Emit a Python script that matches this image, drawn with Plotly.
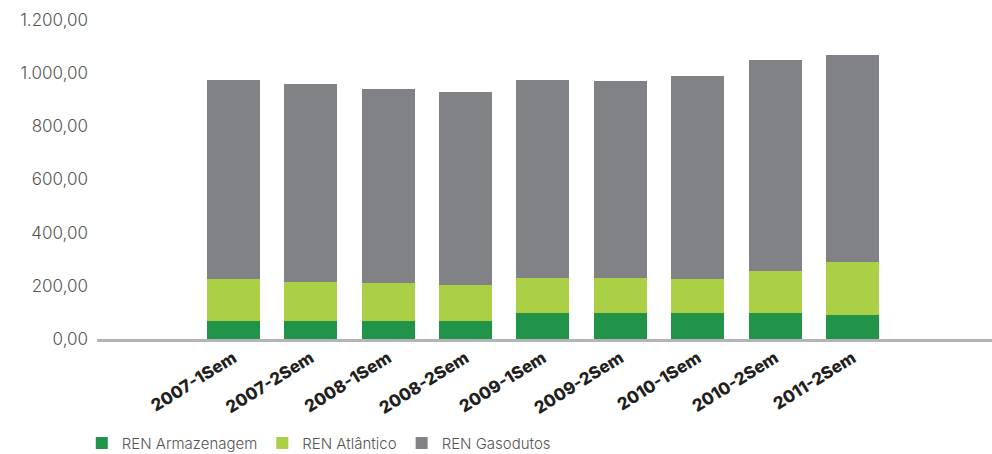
import plotly.graph_objects as go

# Semesters shown on the x axis
periods = ["2007-1Sem", "2007-2Sem", "2008-1Sem", "2008-2Sem", "2009-1Sem",
           "2009-2Sem", "2010-1Sem", "2010-2Sem", "2011-2Sem"]

# Stacked components per semester
armazenagem = [66, 66, 66, 66, 96, 96, 96, 96, 92]
atlantico = [158, 150, 146, 139, 135, 135, 131, 161, 199]
gasodutos = [751, 744, 729, 725, 744, 740, 763, 793, 778]

y_ticks = [0, 200, 400, 600, 800, 1000, 1200]

series = [
    ("REN Armazenagem", armazenagem, "#21944a"),
    ("REN Atlântico", atlantico, "#abd046"),
    ("REN Gasodutos", gasodutos, "#818285"),
]

fig = go.Figure()
for name, values, color in series:
    fig.add_trace(go.Bar(
        x=periods, y=values, name=name,
        marker=dict(color=color, line=dict(width=0)),
    ))

fig.update_layout(
    barmode="stack",
    bargap=0.315,
    width=992, height=454,
    margin=dict(l=97, r=0, t=20, b=114.5, autoexpand=False),
    paper_bgcolor="white",
    plot_bgcolor="white",
    separators=",.",
    showlegend=True,
    legend=dict(
        orientation="h",
        x=-0.017, xanchor="left",
        y=-0.275, yanchor="top",
        font=dict(family="Inter", size=15, color="#555555", weight=300),
        traceorder="normal",
        itemwidth=30,
    ),
    xaxis=dict(
        type="category",
        range=[-1.76, 9.8],
        automargin=False,
        showline=True, linecolor="#b4b4b8", linewidth=2.5,
        showgrid=False, ticks="",
        tickangle=-32,
        tickfont=dict(family="Inter", size=17, color="#231f20", weight=800),
    ),
    yaxis=dict(
        range=[0, 1200],
        automargin=False,
        tickvals=y_ticks,
        tickformat=",.2f",
        showgrid=False, zeroline=False, showline=False, ticks="",
        ticklabelstandoff=8,
        tickfont=dict(family="Inter", size=17, color="#555555", weight=300),
    ),
)

fig.write_html("out.html")
